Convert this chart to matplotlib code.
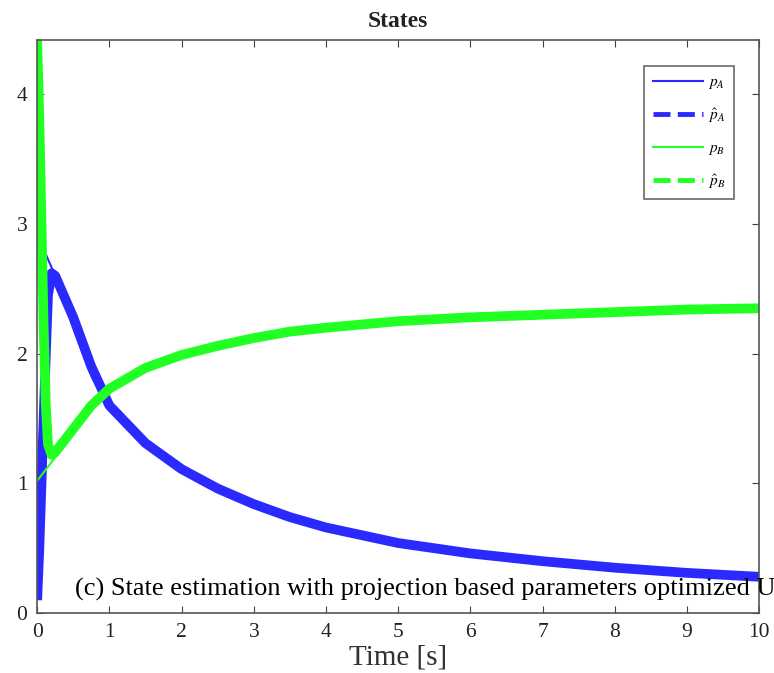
import matplotlib.pyplot as plt
from matplotlib.lines import Line2D

# true states
t_true = [0, 0.25, 0.5, 0.75, 1, 1.5, 2, 2.5, 3, 3.5, 4, 5, 6, 7, 8, 9, 10]
p_a = [2.92, 2.6, 2.2, 1.83, 1.58, 1.3, 1.1, 0.95, 0.83, 0.73, 0.65, 0.53, 0.45, 0.39, 0.34, 0.30, 0.27]
p_b = [1.02, 1.2, 1.4, 1.58, 1.72, 1.88, 1.98, 2.05, 2.11, 2.16, 2.19, 2.24, 2.27, 2.29, 2.31, 2.33, 2.34]

# estimated states
t_est = [0, 0.03, 0.06, 0.09, 0.12, 0.15, 0.2, 0.25, 0.5, 0.75, 1, 1.5, 2, 2.5, 3, 3.5, 4, 5, 6, 7, 8, 9, 10]
p_a_hat = [0.1, 0.5, 1.0, 1.5, 2.0, 2.45, 2.62, 2.6, 2.28, 1.9, 1.6, 1.31, 1.11, 0.96, 0.84, 0.74, 0.66, 0.54, 0.46, 0.40, 0.35, 0.31, 0.28]
p_b_hat = [4.42, 3.8, 3.0, 2.2, 1.6, 1.3, 1.22, 1.24, 1.42, 1.6, 1.73, 1.89, 1.99, 2.06, 2.12, 2.17, 2.2, 2.25, 2.28, 2.3, 2.32, 2.34, 2.35]

blue = '#2a2aff'
green = '#22ff22'

plt.rcParams['mathtext.fontset'] = 'stix'

fig = plt.figure(figsize=(7.74, 6.73), dpi=100)
ax = fig.add_axes([0.048, 0.089, 0.933, 0.852])

ax.plot(t_true, p_a, color=blue, linewidth=1.5)
ax.plot(t_est, p_a_hat, color=blue, linewidth=7, solid_capstyle='butt')
ax.plot(t_true, p_b, color=green, linewidth=1.5)
ax.plot(t_est, p_b_hat, color=green, linewidth=7, solid_capstyle='butt')

ax.set_xlim(0, 10)
ax.set_ylim(0, 4.42)
ax.set_xticks(range(0, 11))
ax.set_yticks([0, 1, 2, 3, 4])
ax.tick_params(direction='in', top=True, right=True, length=5, colors='#404040',
               labelsize=15.5, pad=7)
for lbl in ax.get_xticklabels() + ax.get_yticklabels():
    lbl.set_family('Liberation Serif')
    lbl.set_color('#222222')
for s in ax.spines.values():
    s.set_color('#555555')
    s.set_linewidth(1.2)

ax.set_title('States', fontsize=17, fontweight='bold', family='Liberation Serif',
             pad=9, color='#222222')
ax.set_xlabel('Time [s]', fontsize=21, family='Liberation Serif', labelpad=2, color='#333333')

handles = [
    Line2D([], [], color=blue, linewidth=1.5),
    Line2D([], [], color=blue, linewidth=3.5, linestyle=(0, (3.5, 1.5))),
    Line2D([], [], color=green, linewidth=1.5),
    Line2D([], [], color=green, linewidth=3.5, linestyle=(0, (3.5, 1.5))),
]
labels = [r'$p_A$', r'$\hat{p}_A$', r'$p_B$', r'$\hat{p}_B$']
leg = ax.legend(handles, labels, loc='upper right', bbox_to_anchor=(0.965, 0.955),
                borderaxespad=0, fontsize=11, handlelength=3.3, handletextpad=0.35,
                labelspacing=1.0, fancybox=False, edgecolor='#444444', borderpad=0.55)
leg.get_frame().set_linewidth(1.2)

fig.text(0.097, 0.115, '(c) State estimation with projection based parameters optimized U',
         fontsize=19, family='Liberation Serif', color='black')

plt.savefig('out.png', dpi=100)
